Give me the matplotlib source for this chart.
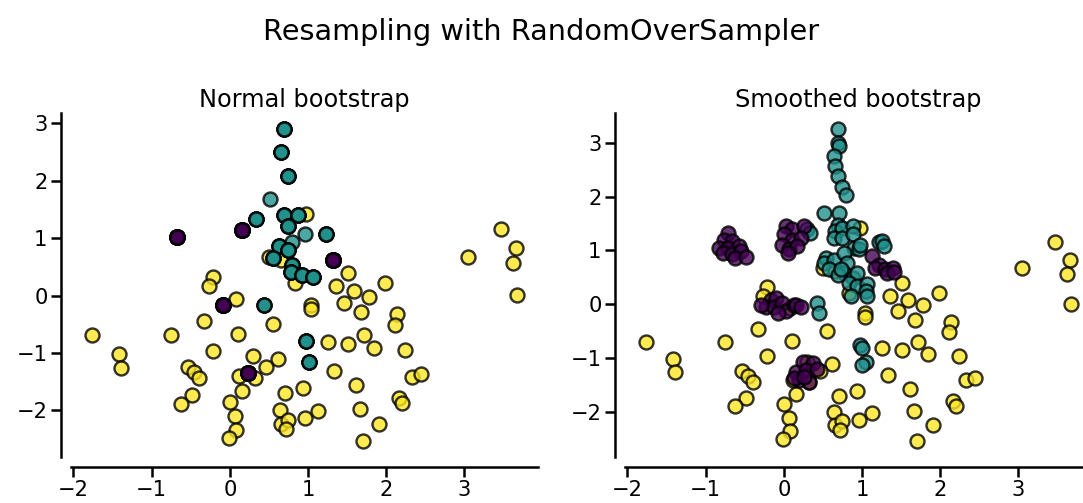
import matplotlib
matplotlib.use("Agg")
import matplotlib.pyplot as plt
import numpy as np
import seaborn as sns

# =========================
# DATA
# =========================
# majority class (yellow) - identical in both panels
yellow_x = [0.98, 0.50, 0.65, 0.83, -0.22, -0.27, 0.08, 1.04, 1.04, -1.76,
            -0.75, 0.10, -0.33, 0.55, -1.42, -1.39, -0.21, 0.29, 0.61, 0.46,
            -0.54, -0.46, -0.39, 0.12, 0.32, 0.15, 0.94, 0.71, -0.48, -0.63,
            0.00, 0.06, 0.64, 0.65, 0.75, 0.72, 0.96, 0.08, -0.01, 1.13,
            1.51, 1.36, 1.59, 1.78, 1.98, 1.46, 3.47, 3.66, 3.62, 3.04,
            3.67, 1.68, 2.14, 2.11, 1.26, 1.51, 1.72, 1.85, 2.24, 1.33,
            1.62, 2.33, 2.45, 2.17, 2.20, 1.66, 1.91, 1.70]
yellow_y = [1.42, 0.68, 0.62, 0.22, 0.33, 0.16, -0.06, -0.16, -0.23, -0.69,
            -0.69, -0.67, -0.45, -0.50, -1.01, -1.26, -0.96, -1.06, -1.11, -1.24,
            -1.24, -1.33, -1.43, -1.40, -1.44, -1.66, -1.61, -1.69, -1.73, -1.89,
            -1.85, -2.10, -1.99, -2.23, -2.17, -2.32, -2.14, -2.34, -2.49, -2.01,
            0.39, 0.16, 0.08, -0.02, 0.22, -0.12, 1.16, 0.83, 0.56, 0.68,
            0.01, -0.29, -0.32, -0.51, -0.80, -0.84, -0.69, -0.92, -0.95, -1.31,
            -1.56, -1.41, -1.37, -1.79, -1.88, -1.98, -2.23, -2.54]

# normal bootstrap: minority samples repeated at the same places
teal_x = [0.69, 0.65, 0.74, 0.52, 0.33, 0.69, 0.87, 0.74, 0.96, 1.23,
          0.80, 0.63, 0.74, 0.55, 0.80, 0.78, 0.92, 1.07, 0.44, 0.97, 1.01]
teal_y = [2.91, 2.50, 2.08, 1.69, 1.34, 1.40, 1.40, 1.22, 1.07, 1.07,
          0.93, 0.86, 0.80, 0.66, 0.54, 0.42, 0.36, 0.33, -0.16, -0.79, -1.15]
teal_repeats = [4, 4, 4, 1, 4, 4, 4, 4, 1, 4,
                1, 4, 4, 4, 4, 4, 4, 4, 3, 4, 4]
purple_x = [-0.67, 0.15, -0.09, 0.23, 1.32]
purple_y = [1.03, 1.15, -0.16, -1.34, 0.62]
purple_repeats = [16, 16, 16, 16, 16]

# smoothed bootstrap
teal_smooth_x = [0.69, 0.69, 0.71, 0.64, 0.65, 0.69, 0.75, 0.79,
                 0.51, 0.71, 0.69, 0.66, 0.75, 0.88, 0.64, 0.75, 0.88,
                 0.90, 0.96, 0.98, 1.22, 1.26, 1.28,
                 0.54, 0.51, 0.64, 0.58, 0.77, 0.81, 0.77, 0.88, 0.94, 0.83,
                 0.94, 1.07, 1.05, 0.86, 1.07, 0.69, 0.73,
                 0.30, 0.34, 0.43, 0.45, 0.98, 1.00, 1.05, 1.00]
teal_smooth_y = [3.26, 3.00, 2.93, 2.76, 2.56, 2.38, 2.17, 2.03,
                 1.70, 1.70, 1.48, 1.36, 1.42, 1.45, 1.23, 1.23, 1.30,
                 1.05, 1.02, 1.11, 1.15, 1.17, 1.08,
                 0.86, 0.77, 0.83, 0.65, 0.96, 0.77, 0.58, 0.49, 0.58, 0.40,
                 0.34, 0.37, 0.24, 0.15, 0.15, 0.55, 0.65,
                 1.39, 1.33, 0.02, -0.16, -0.75, -0.81, -1.06, -1.12]
purple_smooth_x = [-0.72, -0.76, -0.66, -0.83, -0.72, -0.57, -0.78, -0.66, -0.55, -0.63, -0.49,
                   0.03, 0.11, 0.26, 0.00, 0.11, 0.22, -0.02, 0.07, 0.17, 0.05,
                   -0.17, -0.10, -0.23, -0.12, -0.02, 0.03, -0.08, 0.13, 0.16, -0.29, 0.22,
                   0.24, 0.37, 0.15, 0.28, 0.43, 0.20, 0.32, 0.13, 0.26,
                   1.13, 1.22, 1.17, 1.30, 1.39, 1.32, 1.41]
purple_smooth_y = [1.32, 1.20, 1.17, 1.05, 1.05, 1.08, 0.96, 0.93, 0.99, 0.86, 0.88,
                   1.45, 1.39, 1.45, 1.30, 1.20, 1.23, 1.11, 1.02, 1.08, 0.96,
                   0.09, 0.12, -0.04, -0.04, 0.02, -0.13, -0.16, -0.01, -0.02, -0.02, -0.04,
                   -1.06, -1.09, -1.25, -1.22, -1.19, -1.40, -1.43, -1.37, -1.34,
                   0.89, 0.74, 0.68, 0.65, 0.68, 0.58, 0.61]

# =========================
# PLOT
# =========================
sns.set_context("poster")
plt.rcParams["xtick.major.size"] = 10
plt.rcParams["ytick.major.size"] = 10
plt.rcParams["xtick.labelsize"] = 21
plt.rcParams["ytick.labelsize"] = 21

cmap = plt.get_cmap("viridis")
col_yellow = cmap(1.0)
col_teal = cmap(0.5)
col_purple = cmap(0.0)

fig = plt.figure(figsize=(1083 / 72, 503 / 72), dpi=72)
ax_left = fig.add_axes([71 / 1083, 46 / 503, 467 / 1083, 344 / 503])
ax_right = fig.add_axes([625 / 1083, 46 / 503, 467 / 1083, 344 / 503])

# the normal bootstrap simply repeats minority samples
teal_rx = np.repeat(teal_x, teal_repeats)
teal_ry = np.repeat(teal_y, teal_repeats)
purple_rx = np.repeat(purple_x, purple_repeats)
purple_ry = np.repeat(purple_y, purple_repeats)

panels = [
    (ax_left, "Normal bootstrap", teal_rx, teal_ry, purple_rx, purple_ry),
    (ax_right, "Smoothed bootstrap", teal_smooth_x, teal_smooth_y,
     purple_smooth_x, purple_smooth_y),
]

marker = dict(s=195, alpha=0.8, edgecolor="k", linewidths=2.4)

for ax, title, tx, ty, px, py in panels:
    ax.scatter(yellow_x, yellow_y, color=col_yellow, **marker)
    ax.scatter(tx, ty, color=col_teal, **marker)
    ax.scatter(px, py, color=col_purple, **marker)
    ax.set_title(title)
    ax.set_xticks([-2, -1, 0, 1, 2, 3])
    ax.set_yticks([-2, -1, 0, 1, 2, 3])
    sns.despine(ax=ax, offset=10)

fig.suptitle("Resampling with RandomOverSampler", y=0.965)

fig.savefig("out.png", dpi=72)
